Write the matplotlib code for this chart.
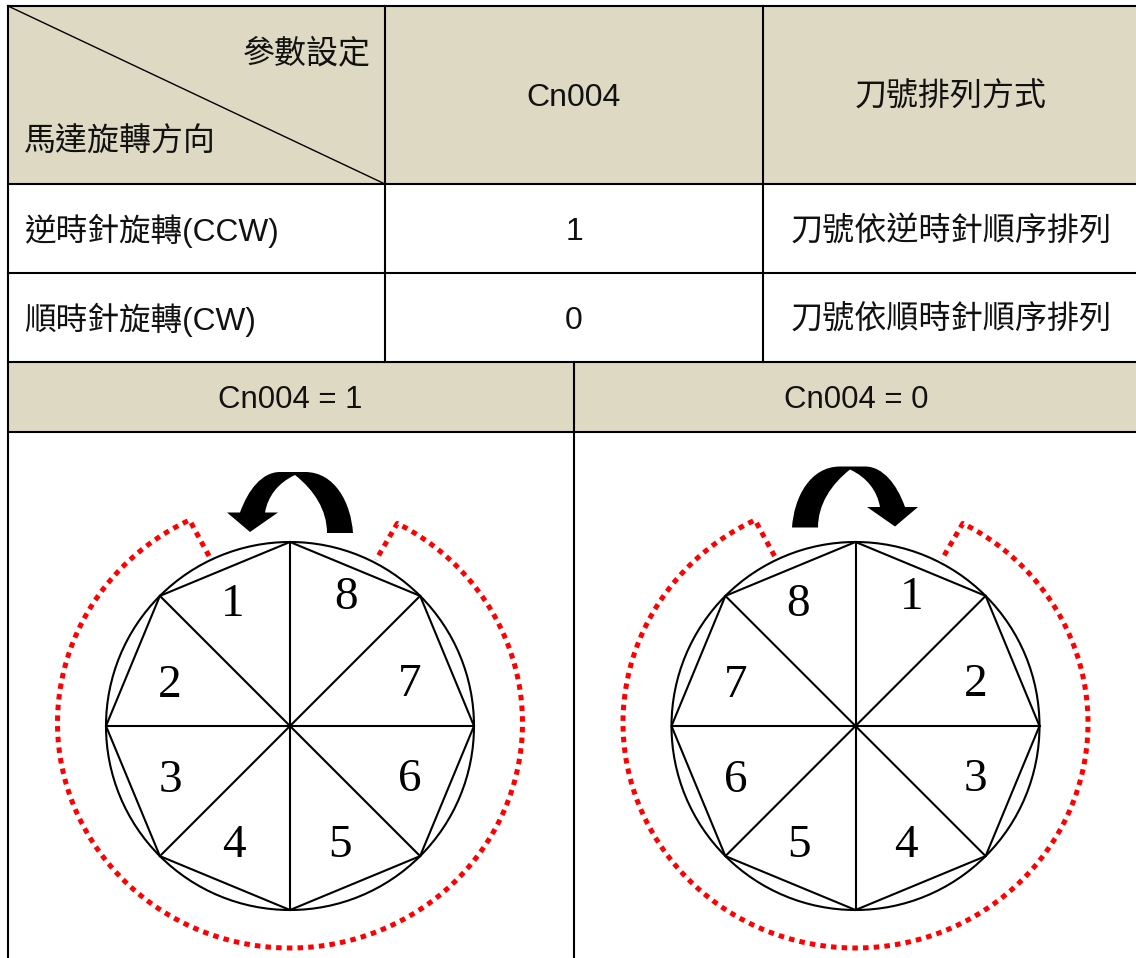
import numpy as np
import matplotlib
matplotlib.use("Agg")
import matplotlib.pyplot as plt
from matplotlib.patches import Circle, PathPatch, Rectangle
from matplotlib.path import Path

FONT = ['Liberation Sans', 'Noto Sans CJK TC', 'DejaVu Sans']

header_labels = ['Cn004', '刀號排列方式']
corner_top = '參數設定'
corner_bottom = '馬達旋轉方向'
row_names = ['逆時針旋轉(CCW)', '順時針旋轉(CW)']
row_values = ['1', '0']
row_notes = ['刀號依逆時針順序排列', '刀號依順時針順序排列']
panel_titles = ['Cn004 = 1', 'Cn004 = 0']
panel_orders = [['1', '8', '2', '7', '3', '6', '4', '5'],
                ['8', '1', '7', '2', '6', '3', '5', '4']]
label_x = [233, 346, 170, 410, 170, 410, 234, 340]
label_y = [601, 594, 682, 681, 777, 776, 842, 842]

HEAD = '#DDD9C3'
RED = '#FF0000'
W, H = 1136, 958
fig = plt.figure(figsize=(W / 100, H / 100), dpi=100, facecolor='white')
ax = fig.add_axes([0, 0, 1, 1])
ax.set_xlim(0, W)
ax.set_ylim(H, 0)
ax.axis('off')

# Header fills
ax.add_patch(Rectangle((8, 6), W - 8, 178, fc=HEAD, ec='none', zorder=0))
ax.add_patch(Rectangle((8, 362), W - 8, 70, fc=HEAD, ec='none', zorder=0))

# Grid lines
lw = 1.5
for y in [6, 184, 273, 362, 432]:
    ax.plot([8, W], [y, y], color='black', lw=lw, solid_capstyle='projecting', zorder=2)
ax.plot([8, 8], [6, H], color='black', lw=lw, zorder=2)
for x in [385, 763]:
    ax.plot([x, x], [6, 362], color='black', lw=lw, zorder=2)
ax.plot([574, 574], [362, H], color='black', lw=lw, zorder=2)
ax.plot([8, 385], [6, 184], color='black', lw=1.0, zorder=2)


def txt(x, y, s, ha='center', size=23):
    ax.text(x, y, s, ha=ha, va='center_baseline', fontsize=size, family=FONT, color='#111111', zorder=3)


txt(370.5, 50, corner_top, ha='right', size=23)
txt(24, 139, corner_bottom, ha='left', size=23)
txt(574, 94.5, header_labels[0])
txt(951, 94, header_labels[1], size=23)
for y, name, val, note in zip([228.5, 317.5], row_names, row_values, row_notes):
    txt(24, y - 1, name, ha='left', size=22.8)
    txt(574, y, val)
    txt(951, y - 0.5, note, size=23.1)
for x, t in zip([290, 856], panel_titles):
    txt(x, 397, t, size=22.4)


def ccw_arrow(dy=0, mirror=None):
    verts = [(353, 533), (351, 503), (335, 472), (305, 472), (280, 472),
             (262, 472), (248, 490), (240, 512.5),
             (227, 512.5), (250, 532), (278, 512.5), (265, 512.5),
             (268, 496), (278, 483), (295, 475),
             (314, 490), (327, 510), (327, 533), (353, 533)]
    codes = [Path.MOVETO, Path.CURVE4, Path.CURVE4, Path.CURVE4, Path.LINETO,
             Path.CURVE4, Path.CURVE4, Path.CURVE4,
             Path.LINETO, Path.LINETO, Path.LINETO, Path.LINETO,
             Path.CURVE4, Path.CURVE4, Path.CURVE4,
             Path.CURVE4, Path.CURVE4, Path.CURVE4, Path.CLOSEPOLY]
    v = np.array(verts, dtype=float)
    if mirror is not None:
        v[:, 0] = mirror - v[:, 0]
    v[:, 1] += dy
    return PathPatch(Path(v, codes), fc='black', ec='none', zorder=3)


def wheel(shift, order):
    cx, cy, r = 290 + shift, 726, 184
    ax.add_patch(Circle((cx, cy), r, fc='none', ec='black', lw=1.5, zorder=2))
    ang = np.deg2rad(np.arange(0, 360, 45))
    px, py = cx + r * np.cos(ang), cy + r * np.sin(ang)
    ax.fill(px, py, fc='none', ec='black', lw=1.5, zorder=2, closed=True)
    for a, b in zip(px, py):
        ax.plot([cx, a], [cy, b], color='black', lw=1.5, zorder=2)
    for x, y, s in zip(label_x, label_y, order):
        ax.text(x + shift, y - 1, s, ha='center', va='center_baseline', fontsize=34,
                family='Liberation Serif', color='black', zorder=3)
    # Dotted red bracket
    ex, ey = 232.5, 225
    ecx, ecy = 290 + shift, 723
    start = np.arctan2((521 - ecy) / ey, (190 - 290) / ex)
    end = np.arctan2((524 - ecy) / ey, (397 - 290) / ex)
    start = start % (2 * np.pi)
    end = end % (2 * np.pi) - 2 * np.pi
    t = np.linspace(start, end, 400)
    xs = np.r_[209 + shift, ecx + ex * np.cos(t), 376 + shift]
    ys = np.r_[556, ecy + ey * np.sin(t), 560]
    ax.plot(xs, ys, color=RED, lw=3.6, linestyle=(0, (1.1, 1.04)),
            dash_capstyle='butt', zorder=2)


wheel(0, panel_orders[0])
wheel(565.5, panel_orders[1])
ax.add_patch(ccw_arrow())
ax.add_patch(ccw_arrow(dy=-5.5, mirror=1145))

fig.savefig('out.png', dpi=100, facecolor='white')
